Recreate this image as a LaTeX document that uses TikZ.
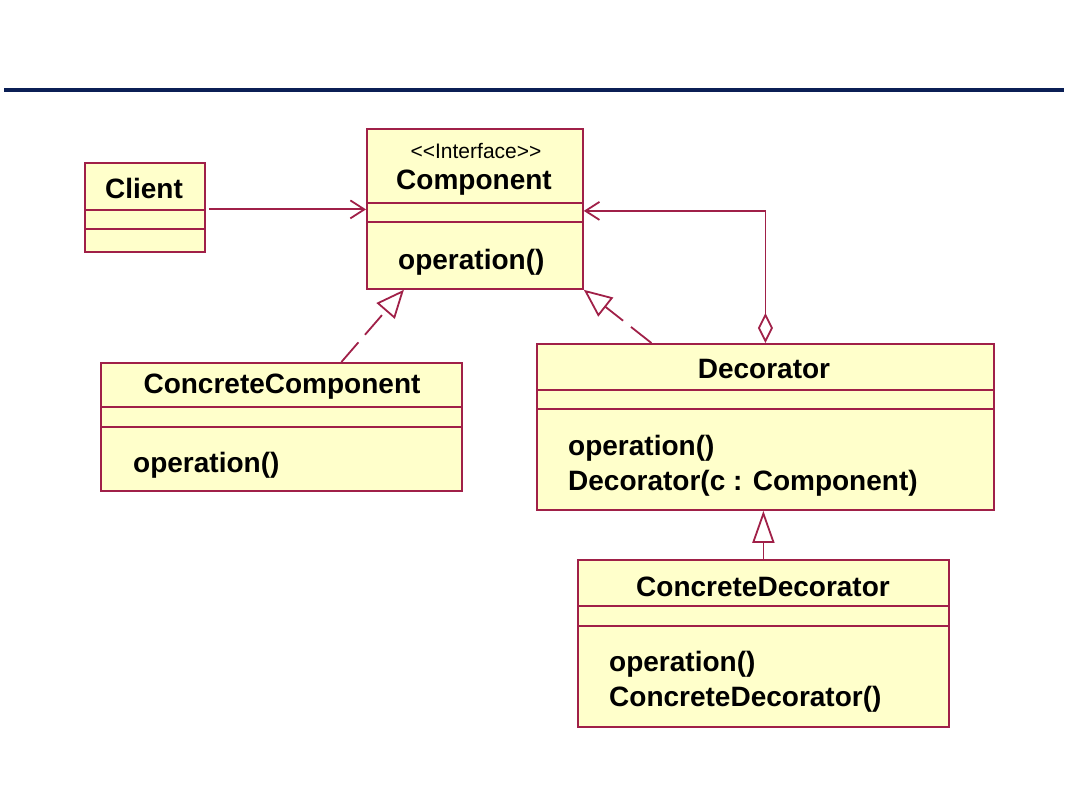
\documentclass[tikz,border=0pt]{standalone}
\usepackage{fontspec}
\setmainfont{Liberation Sans}
\usetikzlibrary{arrows.meta,positioning}
\definecolor{umlred}{RGB}{160,32,72}
\definecolor{umlfill}{RGB}{255,255,203}
\definecolor{barblue}{RGB}{11,31,85}

\begin{document}
\begin{tikzpicture}[x=1pt,y=-1pt,
 cls/.style={draw=umlred,fill=umlfill,line width=1.8pt,anchor=north west,inner sep=0pt},
 sep/.style={draw=umlred,line width=1.8pt},
 ttl/.style={font=\bfseries\fontsize{28}{30}\selectfont},
 ops/.style={font=\bfseries\fontsize{28}{35}\selectfont,align=left,anchor=west,inner sep=0pt},
 stereo/.style={font=\fontsize{21}{22}\selectfont},
 link/.style={draw=umlred,line width=1.8pt},
 realize/.style={link,dash pattern=on 26pt off 10pt,-{Triangle[open,length=28pt,width=24pt]}},
 inherit/.style={link,-{Triangle[open,length=32pt,width=22pt]}},
 assoc/.style={link,-{Straight Barb[length=14pt,width=18pt]}}]
\useasboundingbox (0,0) rectangle (1080,810);
\fill[barblue] (4,88) rectangle (1064,92);

% class boxes
\node[cls,minimum width=120pt,minimum height=89pt] (client) at (84,162) {};
\node[cls,minimum width=216pt,minimum height=160pt] (component) at (366,128) {};
\node[cls,minimum width=361pt,minimum height=128pt] (ccomp) at (100,362) {};
\node[cls,minimum width=457pt,minimum height=166pt] (decorator) at (536,343) {};
\node[cls,minimum width=371pt,minimum height=167pt] (cdec) at (577,559) {};

% compartments
\draw[sep] (client.west |- 0,210) -- (client.east |- 0,210);
\draw[sep] (client.west |- 0,229) -- (client.east |- 0,229);
\draw[sep] (component.west |- 0,203) -- (component.east |- 0,203);
\draw[sep] (component.west |- 0,222) -- (component.east |- 0,222);
\draw[sep] (ccomp.west |- 0,407) -- (ccomp.east |- 0,407);
\draw[sep] (ccomp.west |- 0,427) -- (ccomp.east |- 0,427);
\draw[sep] (decorator.west |- 0,390) -- (decorator.east |- 0,390);
\draw[sep] (decorator.west |- 0,409) -- (decorator.east |- 0,409);
\draw[sep] (cdec.west |- 0,606) -- (cdec.east |- 0,606);
\draw[sep] (cdec.west |- 0,626) -- (cdec.east |- 0,626);

% texts
\node[ttl] (clientName) at (144,188) {Client};
\node[stereo] (compStereo) at (476,151) {<\kern0pt<Interface>\kern0pt>};
\node[ttl] (compName) at (474,183) {Component};
\node[ops] (compOps) at (398,262) {operation()};
\node[ttl] (ccompName) at (282,387) {ConcreteComponent};
\node[ops] (ccompOps) at (133,465) {operation()};
\node[ttl] (decName) at (764,369) {Decorator};
\node[ops] (decOps) at (568,466) {operation()\\Decorator(c : Component)};
\node[ttl] (cdecName) at (763,587) {ConcreteDecorator};
\node[ops] (cdecOps) at (609,682) {operation()\\ConcreteDecorator()};

% relations
\coordinate (clientOut) at ([xshift=3pt,yshift=-2pt]client.east);
\coordinate (compIn) at ([yshift=-2pt]component.east);
\draw[assoc] (clientOut) -- (component.west |- clientOut);
\draw[link,{Diamond[open,length=30pt,width=15pt]}-{Straight Barb[length=14pt,width=18pt]}] (decorator.north) |- (compIn);
\draw[realize] ([xshift=60pt]ccomp.north) -- ([xshift=-71pt]component.south);
\draw[realize] ([xshift=-114pt]decorator.north) -- (component.south east);
\draw[inherit] (cdec.north) -- (cdec.north |- decorator.south);
\end{tikzpicture}
\end{document}
